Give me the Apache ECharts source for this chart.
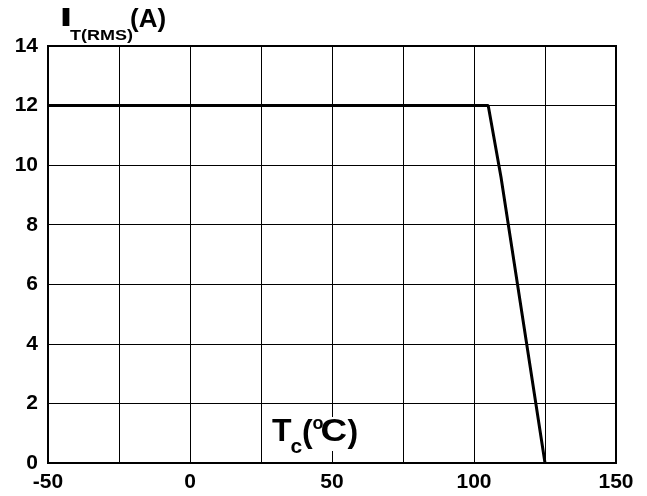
<!DOCTYPE html>
<html>
<head>
<meta charset="utf-8">
<title>IT(RMS) vs Tc</title>
<script src="https://cdn.jsdelivr.net/npm/echarts@6/dist/echarts.min.js"></script>
<style>
  html, body { margin: 0; padding: 0; background: #fff; }
  #main { width: 647px; height: 496px; }
</style>
</head>
<body>
<div id="main"></div>
<script>
// case temperature (°C) and on-state rms current (A)
var tempC = [-50, 105, 109.5, 125];
var currentA = [12, 12, 9.6, 0];
// x ticks every 25, only these get a label
var xLabels = [-50, 0, 50, 100, 150];
var yLabels = [0, 2, 4, 6, 8, 10, 12, 14];

var FONT = '"Liberation Sans", Arial, sans-serif';

function txt(str, x, y, size, opts) {
    var el = {
        type: 'text',
        x: x,
        y: y,
        z: 20,
        style: {
            text: str,
            fill: '#000',
            font: 'bold ' + size + 'px ' + FONT,
            align: 'left',
            verticalAlign: 'middle'
        }
    };
    if (opts && opts.scaleX) el.scaleX = opts.scaleX;
    return el;
}

var points = [];
for (var i = 0; i < tempC.length; i++) {
    points.push([tempC[i], currentA[i]]);
}

var option = {
    animation: false,
    backgroundColor: '#fff',
    grid: {
        left: 48,
        right: 31,
        top: 46,
        bottom: 33,
        show: true,
        borderColor: '#000',
        borderWidth: 2,
        backgroundColor: 'transparent'
    },
    xAxis: {
        type: 'value',
        min: -50,
        max: 150,
        interval: 25,
        axisLine: { show: true, onZero: false, lineStyle: { color: '#000', width: 2 } },
        axisTick: { show: false },
        splitLine: { show: true, lineStyle: { color: '#000', width: 1 } },
        axisLabel: {
            margin: 9,
            color: '#000',
            fontSize: 21,
            fontWeight: 'bold',
            fontFamily: FONT,
            showMinLabel: true,
            showMaxLabel: true,
            formatter: function (v) {
                return xLabels.indexOf(v) >= 0 ? String(v) : '';
            }
        }
    },
    yAxis: {
        type: 'value',
        min: 0,
        max: 14,
        interval: 2,
        axisLine: { show: true, onZero: false, lineStyle: { color: '#000', width: 2 } },
        axisTick: { show: false },
        splitLine: { show: true, lineStyle: { color: '#000', width: 1 } },
        axisLabel: {
            margin: 10,
            color: '#000',
            fontSize: 21,
            fontWeight: 'bold',
            fontFamily: FONT,
            formatter: function (v) {
                return yLabels.indexOf(v) >= 0 ? String(v) : '';
            }
        }
    },
    series: [
        {
            type: 'line',
            data: points,
            showSymbol: false,
            symbol: 'none',
            lineStyle: { color: '#000', width: 3 },
            z: 5
        }
    ],
    graphic: [
        // y axis name: I T(RMS) (A)
        txt('I', 59.5, 19, 26, { scaleX: 1.8 }),
        txt('T(RMS)', 70, 35.5, 15, { scaleX: 1.2 }),
        txt('(A)', 130, 20, 26),
        // x axis name sits inside the plot on a white patch
        {
            type: 'rect',
            z: 15,
            shape: { x: 268, y: 417, width: 92, height: 34 },
            style: { fill: '#fff' }
        },
        txt('T', 272, 432, 32),
        txt('c', 290.5, 447, 21),
        txt('(', 302, 433, 32),
        txt('o', 312.5, 424, 18),
        txt('C', 320.5, 432, 32, { scaleX: 1.15 }),
        txt(')', 347.5, 433, 32)
    ]
};

var chart = echarts.init(document.getElementById('main'), null, { renderer: 'canvas' });
chart.setOption(option);
</script>
</body>
</html>
